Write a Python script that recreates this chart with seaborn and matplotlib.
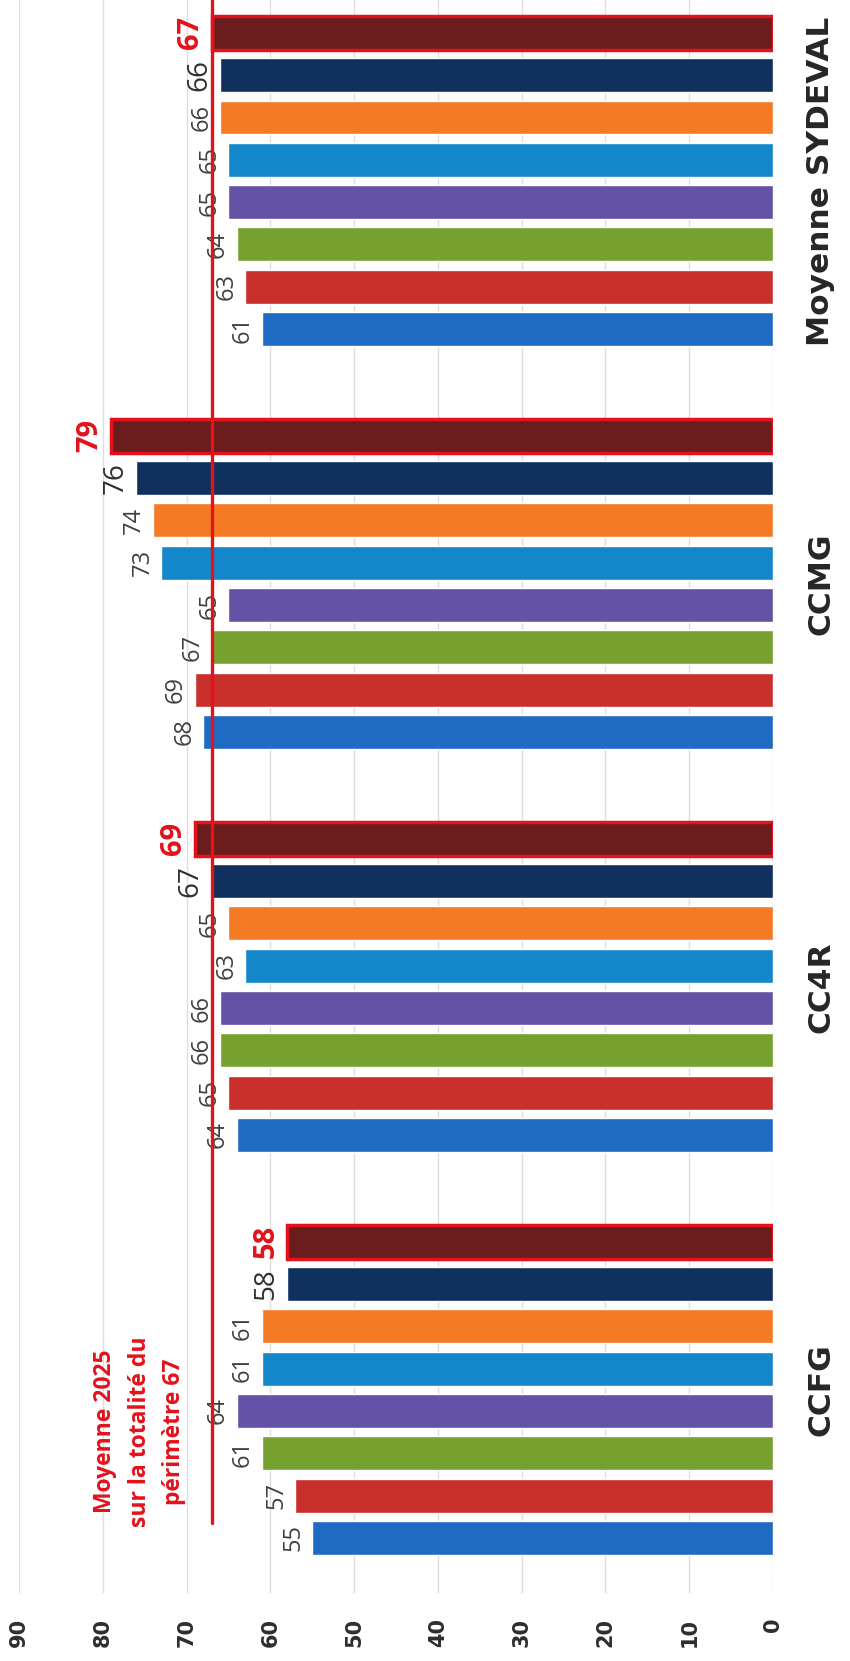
import numpy as np
import pandas as pd
import matplotlib
matplotlib.use("Agg")
import matplotlib.pyplot as plt
import matplotlib.colors as mcolors
import seaborn as sns

# ---------------- data ----------------
categories = ["CCFG", "CC4R", "CCMG", "Moyenne SYDEVAL"]
series = ["2018", "2019", "2020", "2021", "2022", "2023", "2024", "2025"]
v2018 = [55, 64, 68, 61]
v2019 = [57, 65, 69, 63]
v2020 = [61, 66, 67, 64]
v2021 = [64, 66, 65, 65]
v2022 = [61, 63, 73, 65]
v2023 = [61, 65, 74, 66]
v2024 = [58, 67, 76, 66]
v2025 = [58, 69, 79, 67]
moyenne_2025 = 67
annotation_text = "Moyenne 2025\nsur la totalité du\npérimètre 67"
x_ticks = [0, 10, 20, 30, 40, 50, 60, 70, 80, 90]

series_colors = ["#1F6BC4", "#C9302C", "#76A12F", "#6452A6",
                 "#1387CA", "#F47A25", "#10305E", "#6B1D1D"]
RED = "#E3121B"

values = [v2018, v2019, v2020, v2021, v2022, v2023, v2024, v2025]
rows = []
for s, vals in zip(series, values):
    for c, v in zip(categories, vals):
        rows.append({"categorie": c, "serie": s, "valeur": v})
df = pd.DataFrame(rows)
palette = dict(zip(series, series_colors))

# ---------------- plot ----------------
sns.set_theme(style="white")
plt.rcParams["font.family"] = ["DejaVu Sans"]

fig = plt.figure(figsize=(8.5, 16.61), dpi=100)
ax = fig.add_axes([0.0224, 0.041, 0.887, 0.959])

sns.barplot(data=df, y="categorie", x="valeur", hue="serie",
            order=categories[::-1], hue_order=series[::-1],
            palette=palette, orient="h", width=0.84, gap=0.2,
            saturation=1, errorbar=None, legend=False, ax=ax)

ax.set_xlim(90, 0)
ax.set_ylim(3.504, -0.449)
ax.set_xlabel("")
ax.set_ylabel("")
for sp in ax.spines.values():
    sp.set_visible(False)
ax.set_axisbelow(True)
ax.xaxis.grid(True, color="#DEDEDE", linewidth=1.0)
ax.yaxis.grid(False)

ax.set_xticks(x_ticks)
ax.set_xticklabels([str(t) for t in x_ticks], rotation=90,
                   fontsize=15, fontweight="bold", color="#2E2E2E")
ax.tick_params(axis="x", length=0, pad=18)

ax.yaxis.tick_right()
ax.tick_params(axis="y", length=0, pad=24)
for lbl in ax.get_yticklabels():
    lbl.set_rotation(90)
    lbl.set_va("center")
    lbl.set_fontsize(22.5)
    lbl.set_fontweight("bold")
    lbl.set_color("#262626")

# value labels
for cont in ax.containers:
    fc = np.array(cont.patches[0].get_facecolor())
    name = min(series, key=lambda s: np.abs(np.array(mcolors.to_rgba(palette[s])) - fc).sum())
    if name == series[-1]:
        for p in cont.patches:
            p.set_edgecolor(RED)
            p.set_linewidth(2.5)
        ax.bar_label(cont, fmt="%.0f", padding=5, rotation=90, fontsize=21,
                     fontweight="bold", color=RED, family=["Open Sans", "DejaVu Sans"])
    elif name == series[-2]:
        ax.bar_label(cont, fmt="%.0f", padding=5, rotation=90, fontsize=20,
                     color="#303030", family=["Open Sans", "DejaVu Sans"])
    else:
        ax.bar_label(cont, fmt="%.0f", padding=5, rotation=90, fontsize=17,
                     color="#404040", family=["Open Sans", "DejaVu Sans"])

# average line
ax.plot([moyenne_2025, moyenne_2025], [3.33, -0.449], color=RED,
        linewidth=2.4, zorder=6, clip_on=False)

ax.text(75.6, 3.104, annotation_text, rotation=90, ha="center", va="center",
        multialignment="center", color=RED, fontsize=16.5, fontweight="bold",
        family=["Open Sans", "DejaVu Sans"], linespacing=1.6, zorder=7)

fig.savefig("out.png", dpi=100)
